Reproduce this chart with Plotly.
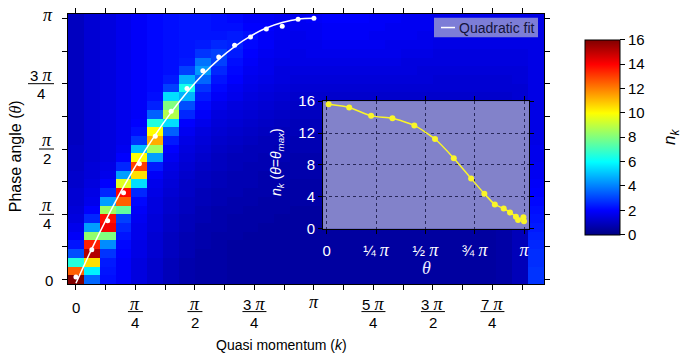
import math
import plotly.graph_objects as go

PI = math.pi

# ---------------- heatmap data ----------------
# n_k for k = n*2pi/30 (n = 0..29); each list runs over theta = m*pi/30 (m = 0..30)
c0 = [16.0, 12.5, 6.5, 3.2, 2.3, 1.9, 1.7, 1.5, 1.4, 1.3,
      1.3, 1.2, 1.2, 1.1, 1.1, 1.1, 1.0, 1.0, 1.0, 1.0,
      1.0, 1.0, 1.0, 1.0, 1.0, 1.0, 1.0, 1.0, 1.0, 1.0, 1.0]
c1 = [3.6, 5.8, 10.5, 15.2, 13.5, 8.3, 4.5, 2.6, 2.0, 1.7,
      1.6, 1.5, 1.4, 1.4, 1.3, 1.3, 1.3, 1.3, 1.3, 1.3,
      1.3, 1.3, 1.3, 1.3, 1.3, 1.3, 1.3, 1.3, 1.3, 1.3, 1.3]
c2 = [2.2, 2.3, 2.4, 2.8, 4.2, 8.0, 14.2, 13.8, 8.5, 4.5,
      2.6, 2.0, 1.7, 1.6, 1.5, 1.5, 1.5, 1.5, 1.5, 1.5,
      1.5, 1.5, 1.5, 1.5, 1.5, 1.5, 1.5, 1.5, 1.5, 1.5, 1.5]
c3 = [1.9, 1.9, 1.9, 2.0, 2.1, 2.3, 2.6, 3.0, 7.5, 12.5,
      13.9, 9.5, 4.5, 2.6, 2.0, 1.8, 1.7, 1.7, 1.7, 1.7,
      1.7, 1.7, 1.7, 1.7, 1.7, 1.7, 1.7, 1.7, 1.7, 1.7, 1.7]
c4 = [1.5, 1.5, 1.5, 1.6, 1.6, 1.7, 1.7, 1.8, 1.9, 2.1,
      2.6, 5.5, 10.5, 13.0, 10.0, 5.0, 2.8, 2.2, 2.0, 1.9,
      1.9, 1.9, 1.9, 1.9, 1.9, 1.9, 1.9, 1.9, 1.9, 1.9, 1.9]
c5 = [1.2, 1.2, 1.2, 1.3, 1.3, 1.3, 1.4, 1.4, 1.5, 1.5,
      1.6, 1.7, 1.9, 2.4, 4.5, 8.5, 11.3, 10.0, 6.5, 3.5,
      2.5, 2.2, 2.1, 2.1, 2.1, 2.1, 2.1, 2.1, 2.1, 2.1, 2.1]
c6 = [0.9, 0.9, 0.9, 1.0, 1.0, 1.0, 1.1, 1.1, 1.2, 1.2,
      1.3, 1.4, 1.5, 1.6, 1.8, 2.0, 2.4, 3.5, 5.5, 8.8,
      8.0, 5.5, 3.0, 2.4, 2.2, 2.2, 2.2, 2.2, 2.2, 2.2, 2.2]
c7 = [0.7, 0.7, 0.7, 0.8, 0.8, 0.8, 0.9, 0.9, 1.0, 1.0,
      1.1, 1.1, 1.2, 1.3, 1.4, 1.5, 1.6, 1.8, 2.0, 2.6,
      3.2, 4.8, 6.3, 4.8, 3.0, 2.4, 2.3, 2.3, 2.3, 2.3, 2.3]
c8 = [0.6, 0.6, 0.6, 0.6, 0.7, 0.7, 0.7, 0.8, 0.8, 0.9,
      0.9, 1.0, 1.0, 1.1, 1.2, 1.3, 1.4, 1.5, 1.7, 1.9,
      2.1, 2.4, 2.8, 3.6, 4.4, 3.8, 2.8, 2.4, 2.3, 2.3, 2.3]
c9 = [0.6, 0.6, 0.6, 0.6, 0.6, 0.6, 0.7, 0.7, 0.7, 0.8,
      0.8, 0.9, 0.9, 1.0, 1.0, 1.1, 1.2, 1.3, 1.4, 1.5,
      1.7, 1.9, 2.1, 2.3, 2.6, 3.0, 3.0, 2.6, 2.3, 2.2, 2.2]
c10 = [0.5, 0.5, 0.5, 0.5, 0.5, 0.6, 0.6, 0.6, 0.7, 0.7,
       0.8, 0.8, 0.8, 0.9, 0.9, 1.0, 1.1, 1.2, 1.3, 1.4,
       1.5, 1.7, 1.8, 2.0, 2.1, 2.2, 2.4, 2.5, 2.4, 2.2, 2.1]
c11 = [0.5, 0.5, 0.5, 0.5, 0.5, 0.5, 0.6, 0.6, 0.6, 0.7,
       0.7, 0.8, 0.8, 0.8, 0.9, 0.9, 1.0, 1.1, 1.2, 1.3,
       1.4, 1.5, 1.6, 1.7, 1.8, 1.9, 2.0, 2.1, 2.2, 2.0, 1.9]
c12 = [0.5, 0.5, 0.5, 0.5, 0.5, 0.5, 0.5, 0.6, 0.6, 0.6,
       0.7, 0.7, 0.7, 0.8, 0.8, 0.9, 0.9, 1.0, 1.1, 1.2,
       1.3, 1.4, 1.5, 1.6, 1.7, 1.7, 1.8, 1.9, 1.9, 2.0, 1.9]
c13 = [0.5, 0.5, 0.5, 0.5, 0.5, 0.5, 0.5, 0.5, 0.6, 0.6,
       0.6, 0.7, 0.7, 0.7, 0.8, 0.8, 0.9, 0.9, 1.0, 1.1,
       1.2, 1.3, 1.4, 1.5, 1.5, 1.6, 1.7, 1.7, 1.8, 1.8, 1.8]
c14 = [0.5, 0.5, 0.5, 0.5, 0.5, 0.5, 0.5, 0.5, 0.5, 0.6,
       0.6, 0.6, 0.7, 0.7, 0.7, 0.8, 0.8, 0.9, 0.9, 1.0,
       1.1, 1.2, 1.3, 1.4, 1.5, 1.6, 1.6, 1.7, 1.7, 1.8, 1.8]
c15 = [0.5, 0.5, 0.5, 0.5, 0.5, 0.5, 0.5, 0.5, 0.5, 0.6,
       0.6, 0.6, 0.7, 0.7, 0.7, 0.8, 0.8, 0.9, 0.9, 1.0,
       1.1, 1.2, 1.3, 1.4, 1.5, 1.6, 1.7, 1.7, 1.8, 1.8, 1.9]
c16 = [0.5, 0.5, 0.5, 0.5, 0.5, 0.5, 0.5, 0.5, 0.5, 0.6,
       0.6, 0.6, 0.7, 0.7, 0.7, 0.8, 0.8, 0.9, 0.9, 1.0,
       1.1, 1.2, 1.3, 1.4, 1.5, 1.6, 1.7, 1.8, 1.9, 1.9, 2.0]
c17 = [0.5, 0.5, 0.5, 0.5, 0.5, 0.5, 0.5, 0.5, 0.5, 0.6,
       0.6, 0.6, 0.7, 0.7, 0.7, 0.8, 0.8, 0.9, 0.9, 1.0,
       1.1, 1.2, 1.3, 1.4, 1.5, 1.6, 1.7, 1.8, 1.9, 1.9, 2.0]
c18 = [0.5, 0.5, 0.5, 0.5, 0.5, 0.5, 0.5, 0.5, 0.5, 0.6,
       0.6, 0.6, 0.7, 0.7, 0.7, 0.8, 0.8, 0.9, 0.9, 1.0,
       1.1, 1.2, 1.3, 1.4, 1.5, 1.6, 1.7, 1.8, 1.9, 1.9, 2.0]
c19 = [0.5, 0.5, 0.5, 0.5, 0.5, 0.5, 0.5, 0.5, 0.5, 0.6,
       0.6, 0.6, 0.7, 0.7, 0.7, 0.8, 0.8, 0.9, 0.9, 1.0,
       1.1, 1.2, 1.3, 1.4, 1.5, 1.6, 1.7, 1.8, 1.8, 1.9, 1.9]
c20 = [0.5, 0.5, 0.5, 0.5, 0.5, 0.5, 0.5, 0.5, 0.5, 0.6,
       0.6, 0.6, 0.7, 0.7, 0.7, 0.8, 0.8, 0.9, 0.9, 1.0,
       1.1, 1.2, 1.3, 1.4, 1.5, 1.6, 1.7, 1.7, 1.8, 1.8, 1.9]
c21 = [0.5, 0.5, 0.5, 0.5, 0.5, 0.5, 0.5, 0.5, 0.5, 0.6,
       0.6, 0.6, 0.7, 0.7, 0.7, 0.8, 0.8, 0.9, 0.9, 1.0,
       1.1, 1.2, 1.3, 1.4, 1.5, 1.5, 1.6, 1.7, 1.8, 1.8, 1.8]
c22 = [0.5, 0.5, 0.5, 0.5, 0.5, 0.5, 0.5, 0.5, 0.5, 0.6,
       0.6, 0.6, 0.7, 0.7, 0.7, 0.8, 0.8, 0.9, 0.9, 1.0,
       1.1, 1.2, 1.3, 1.4, 1.4, 1.5, 1.6, 1.7, 1.7, 1.8, 1.8]
c23 = [0.5, 0.5, 0.5, 0.5, 0.5, 0.5, 0.5, 0.5, 0.5, 0.6,
       0.6, 0.6, 0.7, 0.7, 0.7, 0.8, 0.8, 0.9, 0.9, 1.0,
       1.1, 1.2, 1.3, 1.3, 1.4, 1.5, 1.5, 1.6, 1.6, 1.7, 1.7]
c24 = [0.5, 0.5, 0.5, 0.5, 0.5, 0.5, 0.5, 0.5, 0.5, 0.6,
       0.6, 0.6, 0.7, 0.7, 0.7, 0.8, 0.8, 0.9, 0.9, 1.0,
       1.1, 1.2, 1.3, 1.3, 1.4, 1.5, 1.5, 1.6, 1.6, 1.7, 1.7]
c25 = [0.5, 0.5, 0.5, 0.5, 0.5, 0.5, 0.5, 0.5, 0.5, 0.6,
       0.6, 0.6, 0.7, 0.7, 0.7, 0.8, 0.8, 0.9, 0.9, 1.0,
       1.1, 1.2, 1.3, 1.3, 1.4, 1.5, 1.5, 1.6, 1.6, 1.7, 1.7]
c26 = [0.5, 0.5, 0.5, 0.5, 0.5, 0.5, 0.5, 0.5, 0.5, 0.6,
       0.6, 0.6, 0.7, 0.7, 0.7, 0.8, 0.8, 0.9, 0.9, 1.0,
       1.1, 1.2, 1.3, 1.3, 1.4, 1.5, 1.5, 1.6, 1.6, 1.7, 1.7]
c27 = [0.6, 0.6, 0.6, 0.6, 0.6, 0.6, 0.6, 0.6, 0.6, 0.7,
       0.7, 0.7, 0.8, 0.8, 0.8, 0.9, 0.9, 1.0, 1.0, 1.1,
       1.1, 1.2, 1.3, 1.3, 1.4, 1.5, 1.5, 1.6, 1.6, 1.7, 1.7]
c28 = [0.9, 0.9, 0.9, 0.9, 0.9, 0.9, 0.9, 0.9, 0.9, 0.9,
       1.0, 1.0, 1.0, 1.0, 1.0, 1.0, 1.1, 1.1, 1.1, 1.2,
       1.2, 1.3, 1.3, 1.4, 1.4, 1.5, 1.5, 1.6, 1.6, 1.7, 1.7]
c29 = [2.8, 2.8, 2.7, 2.7, 2.6, 2.5, 2.4, 2.3, 2.2, 2.1,
       2.0, 1.9, 1.8, 1.8, 1.7, 1.7, 1.6, 1.6, 1.6, 1.6,
       1.6, 1.6, 1.6, 1.6, 1.6, 1.6, 1.6, 1.6, 1.6, 1.6, 1.6]
nk_columns = [c0, c1, c2, c3, c4, c5, c6, c7, c8, c9, c10, c11, c12, c13, c14,
              c15, c16, c17, c18, c19, c20, c21, c22, c23, c24, c25, c26, c27,
              c28, c29]

N_K = len(nk_columns)          # 30 quasi-momenta over [0, 2pi)
N_TH = len(c0)                 # 31 phase angles over [0, pi]
k_vals = [2 * PI * n / N_K for n in range(N_K)]
theta_vals = [PI * m / (N_TH - 1) for m in range(N_TH)]
z = [[nk_columns[c][r] for c in range(N_K)] for r in range(N_TH)]

# ---------------- theta_max points and quadratic fit (units of pi) ----------------
k_dots_pi = [0, 1/15, 2/15, 3/15, 4/15, 5/15, 6/15, 7/15, 8/15, 9/15,
             10/15, 11/15, 12/15, 13/15, 14/15, 1.0]
theta_max_pi = [0.010, 0.114, 0.225, 0.333, 0.444, 0.549, 0.644, 0.732,
                0.799, 0.852, 0.897, 0.929, 0.959, 0.970, 0.997, 1.0]
fit_theta_pi = [-0.014, 0.118, 0.241, 0.355, 0.459, 0.554, 0.640, 0.717,
                0.785, 0.843, 0.892, 0.932, 0.963, 0.984, 0.997, 1.0]

# inset: n_k at theta_max
nk_peak = [15.6, 15.2, 14.15, 13.85, 12.95, 11.25, 8.85, 6.3,
           4.4, 3.05, 2.55, 2.05, 1.5, 1.1, 1.45, 0.95]

# tick labels
x_tick_pi = [0, 0.25, 0.5, 0.75, 1.0, 1.25, 1.5, 1.75]
x_tick_num = ["0", "π", "π", "3 π", "π", "5 π", "3 π", "7 π"]
x_tick_den = ["", "4", "2", "4", "", "4", "2", "4"]
y_tick_pi = [0, 0.25, 0.5, 0.75, 1.0]
y_tick_num = ["0", "π", "π", "3 π", "π"]
y_tick_den = ["", "4", "2", "4", ""]
inset_x_tick_pi = [0, 0.25, 0.5, 0.75, 1.0]
inset_x_tick_txt = ["0", "¼ π", "½ π", "¾ π", "π"]
cbar_ticks = [0, 2, 4, 6, 8, 10, 12, 14, 16]

# ---------------- styling ----------------
SANS = "Liberation Sans, Arial, sans-serif"
SERIF = "Liberation Serif"
W, H = 685, 359
L, R, T, B = 68, 141, 5, 75
PW, PH = W - L - R, H - T - B
INSET_BG = "rgb(130,130,202)"


def px_x(p):
    return (p - L) / PW


def px_y(p):
    return (T + PH - p) / PH


def fmt(s, size=18):
    return s.replace("π", "<span style='font-family:%s;font-size:%dpx'><i>π</i></span>"
                     % (SERIF, size))


jet = [[0.0, "rgb(0,0,128)"], [0.125, "rgb(0,0,255)"], [0.375, "rgb(0,255,255)"],
       [0.625, "rgb(255,255,0)"], [0.875, "rgb(255,0,0)"], [1.0, "rgb(128,0,0)"]]

fig = go.Figure()
fig.add_trace(go.Heatmap(
    x=k_vals, y=theta_vals, z=z, zmin=0, zmax=16, colorscale=jet,
    xaxis="x", yaxis="y", hoverinfo="skip",
    colorbar=dict(x=px_x(585), xanchor="left", xpad=0,
                  y=px_y(233), yanchor="bottom", ypad=0,
                  len=(233 - 31.7) / PH, lenmode="fraction",
                  thickness=35, outlinecolor="black", outlinewidth=1,
                  tickvals=cbar_ticks, ticks="outside", ticklen=5,
                  tickcolor="black",
                  tickfont=dict(family=SANS, size=15, color="black")),
))
fig.add_trace(go.Scatter(
    x=[v * PI for v in k_dots_pi], y=[v * PI for v in fit_theta_pi],
    mode="lines", line=dict(color="white", width=1.5, shape="spline"),
    xaxis="x", yaxis="y", hoverinfo="skip", showlegend=False))
fig.add_trace(go.Scatter(
    x=[v * PI for v in k_dots_pi], y=[v * PI for v in theta_max_pi],
    mode="markers", marker=dict(color="white", size=5),
    xaxis="x", yaxis="y", hoverinfo="skip", showlegend=False))
fig.add_trace(go.Scatter(
    x=[v * PI for v in theta_max_pi], y=nk_peak,
    mode="lines+markers",
    line=dict(color="rgb(250,245,40)", width=1.5, shape="spline", smoothing=0.6),
    marker=dict(color="rgb(250,245,40)", size=6),
    xaxis="x2", yaxis="y2", hoverinfo="skip", showlegend=False))

axis_common = dict(showticklabels=False, ticks="outside", ticklen=5, tickwidth=1,
                   tickcolor="black", showline=True, linecolor="black",
                   linewidth=1, mirror="ticks", showgrid=False, zeroline=False)

fig.update_layout(
    width=W, height=H, margin=dict(l=L, r=R, t=T, b=B),
    paper_bgcolor="white", plot_bgcolor=INSET_BG, showlegend=False,
    font=dict(family=SANS, size=14, color="black"),
    xaxis=dict(domain=[0, 1], range=[-PI / 30, 59 * PI / 30],
               tickvals=[i * PI / 8 for i in range(16)], anchor="y", **axis_common),
    yaxis=dict(domain=[0, 1], range=[-PI / 60, 61 * PI / 60],
               tickvals=[i * PI / 8 for i in range(9)], anchor="x", **axis_common),
    xaxis2=dict(domain=[px_x(323), px_x(529)], range=[-0.059, 3.221], anchor="y2",
                tickvals=[v * PI for v in inset_x_tick_pi],
                ticktext=[fmt(t, 18) for t in inset_x_tick_txt],
                tickfont=dict(family=SANS, size=15, color="white"),
                ticks="outside", ticklen=4, tickcolor="black", ticklabelstandoff=4,
                showline=True, linecolor="black", linewidth=1, mirror="ticks",
                showgrid=True, gridcolor="rgb(40,40,90)", griddash="dot", gridwidth=1,
                zeroline=False),
    yaxis2=dict(domain=[px_y(227), px_y(95)], range=[0, 16], anchor="x2",
                tickvals=[0, 4, 8, 12, 16],
                tickfont=dict(family=SANS, size=15, color="white"),
                ticks="outside", ticklen=4, tickcolor="black",
                showline=True, linecolor="black", linewidth=1, mirror="ticks",
                showgrid=True, gridcolor="rgb(40,40,90)", griddash="dot", gridwidth=1,
                zeroline=False),
)

annotations = []
shapes = []
FS = 15

# x-axis tick labels (fractions)
for v, n, d in zip(x_tick_pi, x_tick_num, x_tick_den):
    xv = v * PI
    if d == "":
        annotations.append(dict(x=xv, xref="x", y=0, yref="paper",
                                yshift=-(302 - 284) if n == "π" else -(307 - 284),
                                text=fmt(n), showarrow=False, xanchor="center",
                                yanchor="middle", font=dict(size=FS)))
    else:
        w = 15 if n == "π" else 24
        annotations.append(dict(x=xv, xref="x", y=0, yref="paper", yshift=-(304 - 284),
                                text=fmt(n), showarrow=False, xanchor="center",
                                yanchor="middle", font=dict(size=FS)))
        annotations.append(dict(x=xv, xref="x", y=0, yref="paper", yshift=-(322 - 284),
                                text=d, showarrow=False, xanchor="center",
                                yanchor="middle", font=dict(size=FS)))
        shapes.append(dict(type="line", xref="x", xsizemode="pixel", xanchor=xv,
                           x0=-w / 2, x1=w / 2, yref="paper", y0=px_y(312.5),
                           y1=px_y(312.5), line=dict(color="black", width=1)))

# y-axis tick labels (fractions), right aligned at x=54px
for v, n, d in zip(y_tick_pi, y_tick_num, y_tick_den):
    yv = v * PI
    if d == "":
        annotations.append(dict(x=px_x(55), xref="paper", y=yv, yref="y",
                                yshift=3 if n == "π" else -1,
                                text=fmt(n), showarrow=False, xanchor="right",
                                yanchor="middle", font=dict(size=FS)))
    else:
        w = 15 if n == "π" else 26
        cx = 54 - w / 2
        annotations.append(dict(x=px_x(cx), xref="paper", y=yv, yref="y", yshift=9,
                                text=fmt(n), showarrow=False, xanchor="center",
                                yanchor="middle", font=dict(size=FS)))
        annotations.append(dict(x=px_x(cx), xref="paper", y=yv, yref="y", yshift=-9.5,
                                text=d, showarrow=False, xanchor="center",
                                yanchor="middle", font=dict(size=FS)))
        shapes.append(dict(type="line", xref="paper", x0=px_x(54 - w), x1=px_x(54),
                           yref="y", y0=yv, y1=yv, line=dict(color="black", width=1)))

# axis titles
annotations.append(dict(x=px_x(15), xref="paper", y=px_y(152), yref="paper",
                        text="Phase angle (<span style='font-family:%s'><i>θ</i></span>)" % SERIF,
                        textangle=-90, showarrow=False, xanchor="center",
                        yanchor="middle", font=dict(size=16)))
annotations.append(dict(x=px_x(281), xref="paper", y=px_y(347), yref="paper",
                        text="Quasi momentum (<i>k</i>)", showarrow=False,
                        xanchor="center", yanchor="middle", font=dict(size=14)))

# inset titles
annotations.append(dict(x=px_x(277), xref="paper", y=px_y(158), yref="paper",
                        text="<i>n</i><sub><i>k</i></sub> (<i>θ</i>=<i>θ</i><sub><i>max</i></sub>)",
                        textangle=-90, showarrow=False, xanchor="center",
                        yanchor="middle", font=dict(size=14, color="white")))
annotations.append(dict(x=px_x(426), xref="paper", y=px_y(267), yref="paper",
                        text="<i>θ</i>", showarrow=False, xanchor="center",
                        yanchor="middle",
                        font=dict(size=18, color="rgb(235,235,255)", family=SERIF)))

# colorbar title
annotations.append(dict(x=px_x(671), xref="paper", y=px_y(132), yref="paper",
                        text="<i>n</i><sub><i>k</i></sub>", textangle=-90,
                        showarrow=False, xanchor="center", yanchor="middle",
                        font=dict(size=17)))

# legend (drawn manually)
shapes.append(dict(type="rect", xref="paper", yref="paper",
                   x0=px_x(434), x1=px_x(538), y0=px_y(29), y1=px_y(9),
                   fillcolor="rgb(125,125,215)", line=dict(width=0)))
shapes.append(dict(type="line", xref="paper", yref="paper",
                   x0=px_x(441), x1=px_x(455), y0=px_y(19), y1=px_y(19),
                   line=dict(color="white", width=1.5)))
annotations.append(dict(x=px_x(457), xref="paper", y=px_y(19), yref="paper",
                        text="Quadratic fit", showarrow=False, xanchor="left",
                        yanchor="middle", font=dict(size=14, color="rgb(20,20,60)")))

fig.update_layout(annotations=annotations, shapes=shapes)
fig.write_html("out.html", config={"displayModeBar": False},
               post_script="document.body.style.margin='0';document.body.style.overflow='hidden';")
